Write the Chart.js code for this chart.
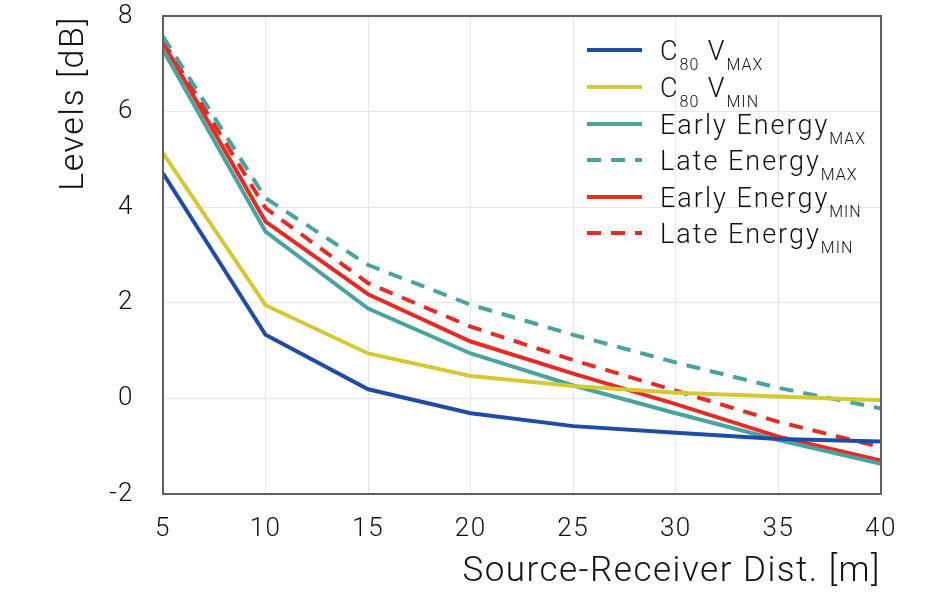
<!DOCTYPE html>
<html>
<head>
<meta charset="utf-8">
<script src="https://cdn.jsdelivr.net/npm/chart.js@4.4.1/dist/chart.umd.min.js"></script>
<style>
  html, body { margin: 0; padding: 0; background: #fff; }
  #wrap { width: 947px; height: 593px; position: relative; }
</style>
</head>
<body>
<div id="wrap"><canvas id="chart"></canvas></div>
<script>
// distances along the x axis [m]
const distances = [5, 10, 15, 20, 25, 30, 35, 40];

// levels [dB]
const c80VMax        = [4.71, 1.33, 0.19, -0.31, -0.58, -0.72, -0.85, -0.90];
const c80VMin        = [5.13, 1.95, 0.94, 0.47, 0.26, 0.12, 0.04, -0.04];
const earlyEnergyMax = [7.29, 3.49, 1.88, 0.94, 0.27, -0.31, -0.87, -1.37];
const lateEnergyMax  = [7.57, 4.19, 2.79, 1.96, 1.33, 0.75, 0.22, -0.21];
const earlyEnergyMin = [7.44, 3.70, 2.18, 1.19, 0.52, -0.12, -0.80, -1.30];
const lateEnergyMin  = [7.48, 3.98, 2.41, 1.50, 0.80, 0.16, -0.49, -1.02];

// legend labels as [text, isSubscript] pieces
const legendLabels = [
  [['C', 0], ['80', 1], [' V', 0], ['MAX', 1]],
  [['C', 0], ['80', 1], [' V', 0], ['MIN', 1]],
  [['Early Energy', 0], ['MAX', 1]],
  [['Late Energy', 0], ['MAX', 1]],
  [['Early Energy', 0], ['MIN', 1]],
  [['Late Energy', 0], ['MIN', 1]],
];

const COLORS = {
  blue: '#1f4ca6',
  yellow: '#d3c935',
  teal: '#4ba3a0',
  red: '#e42c25',
};

const FONT = "'Roboto', 'DejaVu Sans', sans-serif";

function series(data, color, dashed) {
  return {
    data: data.map((v, i) => ({ x: distances[i], y: v })),
    borderColor: color,
    backgroundColor: color,
    borderWidth: 4,
    borderDash: dashed ? [14, 10] : [],
    pointRadius: 0,
    tension: 0,
    fill: false,
  };
}

const datasets = [
  series(c80VMax, COLORS.blue, false),
  series(c80VMin, COLORS.yellow, false),
  series(earlyEnergyMax, COLORS.teal, false),
  series(lateEnergyMax, COLORS.teal, true),
  series(earlyEnergyMin, COLORS.red, false),
  series(lateEnergyMin, COLORS.red, true),
];

// wider letter spacing for all text, the original font is spaced out
const spacingPlugin = {
  id: 'spacing',
  beforeDraw(chart) {
    chart.ctx.letterSpacing = '1.5px';
  },
};

// frame round the plot area
const framePlugin = {
  id: 'frame',
  afterDatasetsDraw(chart) {
    const { ctx, chartArea: a } = chart;
    ctx.save();
    ctx.strokeStyle = '#606060';
    ctx.lineWidth = 2;
    ctx.strokeRect(a.left, a.top, a.right - a.left, a.bottom - a.top);
    ctx.restore();
  },
};

// legend with subscripts, drawn on the canvas
const subLegendPlugin = {
  id: 'subLegend',
  afterDraw(chart) {
    const { ctx } = chart;
    const x0 = 587, lineLen = 55, textX = 660;
    const rowY = [50, 87, 124, 160, 197, 233];
    ctx.save();
    chart.data.datasets.forEach((ds, i) => {
      const y = rowY[i];
      ctx.strokeStyle = ds.borderColor;
      ctx.lineWidth = 4;
      ctx.setLineDash(ds.borderDash.length ? [14, 10] : []);
      ctx.beginPath();
      ctx.moveTo(x0, y);
      ctx.lineTo(x0 + lineLen, y);
      ctx.stroke();
      ctx.setLineDash([]);
      ctx.fillStyle = '#111';
      ctx.textBaseline = 'alphabetic';
      let x = textX;
      legendLabels[i].forEach(([txt, sub]) => {
        ctx.font = sub ? `300 16px ${FONT}` : `300 27px ${FONT}`;
        ctx.letterSpacing = sub ? '1px' : '2px';
        ctx.fillText(txt, x, sub ? y + 20 : y + 10);
        x += ctx.measureText(txt).width;
      });
    });
    ctx.restore();
  },
};

new Chart(document.getElementById('chart'), {
  type: 'line',
  data: { datasets },
  options: {
    responsive: true,
    maintainAspectRatio: false,
    animation: false,
    layout: { padding: { top: 16, right: 66, left: 0, bottom: 0 } },
    plugins: {
      legend: { display: false },
      tooltip: { enabled: false },
    },
    scales: {
      x: {
        type: 'linear',
        min: 5,
        max: 40,
        afterBuildTicks: (scale) => { scale.ticks = distances.map(v => ({ value: v })); },
        afterFit: (scale) => {
          scale.height = 99;
          scale.paddingLeft = 0;
          scale.paddingRight = 0;
        },
        grid: { color: '#e6e6e6', lineWidth: 1, drawTicks: false },
        border: { display: false },
        ticks: {
          color: '#111',
          padding: 20,
          maxRotation: 0,
          font: { family: FONT, size: 26, weight: '300' },
        },
        title: {
          display: true,
          text: 'Source-Receiver Dist. [m]',
          align: 'end',
          color: '#111',
          padding: { top: 0, bottom: 0 },
          font: { family: FONT, size: 35, weight: '300' },
        },
      },
      y: {
        min: -2,
        max: 8,
        afterFit: (scale) => {
          scale.width = 163;
          scale.paddingTop = 0;
          scale.paddingBottom = 0;
        },
        grid: { color: '#e6e6e6', lineWidth: 1, drawTicks: false },
        border: { display: false },
        ticks: {
          stepSize: 2,
          color: '#111',
          padding: 29,
          font: { family: FONT, size: 26, weight: '300' },
        },
        title: {
          display: true,
          text: 'Levels [dB]',
          align: 'end',
          color: '#111',
          padding: { top: 54, bottom: 0 },
          font: { family: FONT, size: 34, weight: '300' },
        },
      },
    },
  },
  plugins: [spacingPlugin, framePlugin, subLegendPlugin],
});
</script>
</body>
</html>
